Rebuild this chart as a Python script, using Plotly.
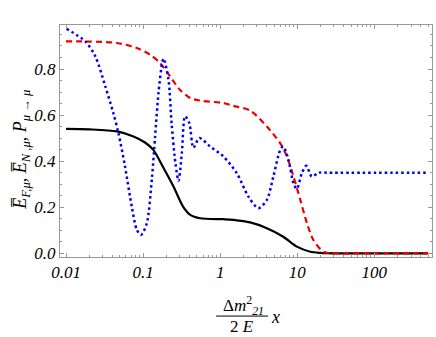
import plotly.graph_objects as go

# E_F,mu (solid black)
x_black = [0.01, 0.02, 0.046, 0.075, 0.106, 0.136, 0.18, 0.248, 0.33, 0.41, 0.55,
           1.1, 1.48, 2.45, 4.04, 6.6, 9.9, 14.8, 20, 30, 100, 500]
y_black = [0.54, 0.538, 0.529, 0.507, 0.481, 0.449, 0.377, 0.29, 0.203, 0.167, 0.152,
           0.148, 0.145, 0.134, 0.109, 0.072, 0.029, 0.007, 0.002, 0.0, 0.0, 0.0]

# E_N,mu (dashed red)
x_red = [0.01, 0.02, 0.046, 0.083, 0.123, 0.166, 0.224, 0.30, 0.41, 0.55, 1.1, 1.48,
         2.45, 4.04, 6.0, 7.35, 8.95, 10.96, 13.4, 16.2, 21.9, 30, 100, 500]
y_red = [0.92, 0.919, 0.913, 0.891, 0.862, 0.826, 0.768, 0.71, 0.674, 0.663, 0.652, 0.64,
         0.62, 0.55, 0.478, 0.42, 0.333, 0.232, 0.13, 0.058, 0.007, 0.0, 0.0, 0.0]

# P_mu->mu (dotted blue)
x_blue = [0.0102, 0.0178, 0.024, 0.0324, 0.0411, 0.0479, 0.0583, 0.0713, 0.0832, 0.0942,
          0.1117, 0.1297, 0.1432, 0.1585, 0.1778, 0.185, 0.2138, 0.2344, 0.263, 0.2884,
          0.3184, 0.3508, 0.398, 0.4498, 0.537, 0.741, 1.104, 1.644, 2.328, 3.14,
          4.04, 4.9, 6.03, 6.6, 7.69, 8.95, 9.9, 11.5, 13.1, 15.5, 18.9, 25, 500]
y_blue = [0.974, 0.92, 0.855, 0.724, 0.609, 0.522, 0.377, 0.203, 0.101, 0.08,
          0.13, 0.319, 0.507, 0.696, 0.83, 0.845, 0.753, 0.565, 0.391, 0.315,
          0.435, 0.595, 0.565, 0.458, 0.5, 0.464, 0.42, 0.348, 0.246, 0.196,
          0.232, 0.333, 0.449, 0.464, 0.406, 0.304, 0.28, 0.348, 0.38, 0.333, 0.35, 0.35, 0.35]

x_ticks = [0.01, 0.1, 1, 10, 100]
x_ticklabels = ["0.01", "0.1", "1", "10", "100"]
y_ticks = [0, 0.2, 0.4, 0.6, 0.8]
y_ticklabels = ["0.0", "0.2", "0.4", "0.6", "0.8"]

# minor log ticks 2..9 per decade
x_minor = [m * d for d in [0.01, 0.1, 1, 10, 100] for m in range(2, 10)]

serif = "Liberation Serif"
frame = "#999999"

fig = go.Figure()
fig.add_trace(go.Scatter(x=x_black, y=y_black, mode="lines",
                         line=dict(color="black", width=2.2, shape="spline", smoothing=0.8)))
fig.add_trace(go.Scatter(x=x_red, y=y_red, mode="lines",
                         line=dict(color="#ee0000", width=2.2, dash="6px,4px", shape="spline", smoothing=0.8)))
fig.add_trace(go.Scatter(x=x_blue, y=y_blue, mode="lines",
                         line=dict(color="#0000ee", width=2.5, dash="2.5px,3px", shape="spline", smoothing=0.8)))

fig.update_xaxes(type="log", range=[-2.078, 2.749], tickvals=x_ticks, ticktext=x_ticklabels,
                 showgrid=False, zeroline=False, showline=True, linecolor=frame, linewidth=1,
                 mirror="allticks", ticks="inside", ticklen=4, tickcolor=frame,
                 minor=dict(ticks="inside", ticklen=2, tickcolor=frame, tickvals=x_minor, showgrid=False),
                 tickfont=dict(family=serif, size=17, style="italic", color="black"))
fig.update_yaxes(range=[-0.016, 0.991], tickvals=y_ticks, ticktext=y_ticklabels,
                 showgrid=False, zeroline=False, showline=True, linecolor=frame, linewidth=1,
                 mirror="allticks", ticks="inside", ticklen=4, tickcolor=frame,
                 minor=dict(ticks="inside", ticklen=2, tickcolor=frame, dtick=0.05, showgrid=False),
                 tickfont=dict(family=serif, size=17, style="italic", color="black"))

fig.update_layout(width=436, height=337, margin=dict(l=60, r=4, t=25, b=80),
                  plot_bgcolor="white", paper_bgcolor="white", showlegend=False)

# y axis title
fig.add_annotation(xref="paper", yref="paper", x=0, y=0.462, xshift=-38, textangle=-90,
                   xanchor="center", yanchor="middle", showarrow=False,
                   font=dict(family=serif, size=18, color="black", style="italic"),
                   text="E\u0305<sub>F,μ</sub>, E\u0305<sub>N ,μ</sub>, P<sub>μ → μ</sub>")

# x axis title as a fraction
fig.add_annotation(xref="paper", yref="paper", x=0.492, y=0, yshift=-48,
                   xanchor="center", yanchor="middle", showarrow=False,
                   font=dict(family=serif, size=17, color="black"),
                   text="Δ<i>m</i><sup>2</sup><sub><i>21</i></sub>")
fig.add_shape(type="line", xref="paper", yref="paper", x0=0.4197, x1=0.5596, y0=-0.2546, y1=-0.2546,
              line=dict(color="black", width=1), layer="above")
fig.add_annotation(xref="paper", yref="paper", x=0.49, y=0, yshift=-69,
                   xanchor="center", yanchor="middle", showarrow=False,
                   font=dict(family=serif, size=17, color="black"),
                   text="2 <i>E</i>")
fig.add_annotation(xref="paper", yref="paper", x=0.578, y=0, yshift=-60,
                   xanchor="center", yanchor="middle", showarrow=False,
                   font=dict(family=serif, size=18, color="black", style="italic"),
                   text="x")

fig.write_html("out.html", config={"displayModeBar": False},
               post_script="document.body.style.margin='0';")
